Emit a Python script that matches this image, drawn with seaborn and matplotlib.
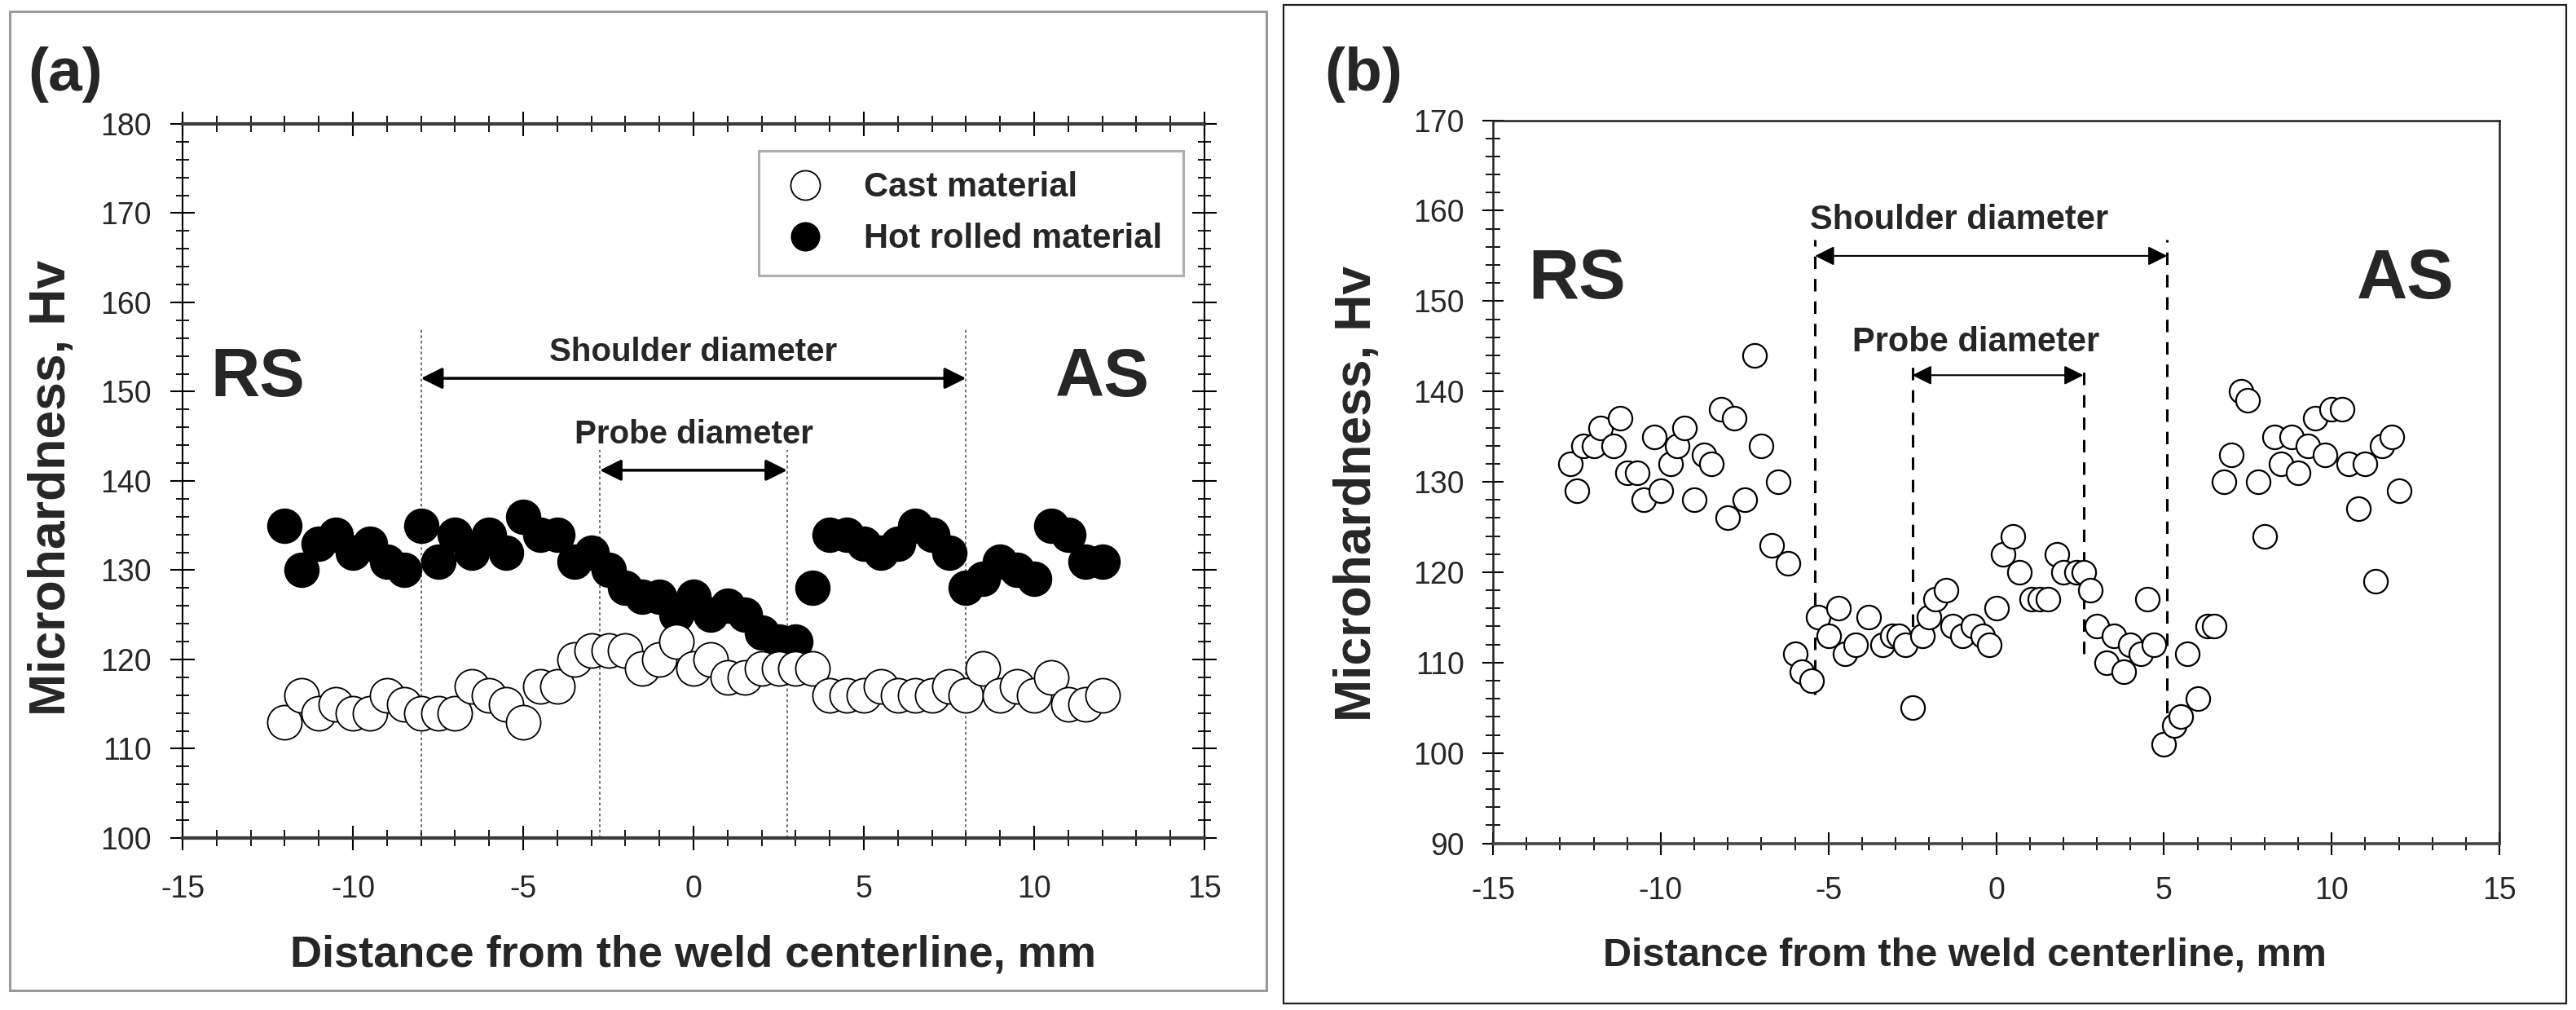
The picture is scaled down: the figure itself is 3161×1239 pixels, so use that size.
import matplotlib
matplotlib.use("Agg")
import matplotlib.pyplot as plt
import seaborn as sns
import pandas as pd
from matplotlib.lines import Line2D
from matplotlib.patches import Rectangle
from matplotlib.ticker import MultipleLocator

# ---------------- data: panel (a) ----------------
pos_a = [-12, -11.5, -11, -10.5, -10, -9.5, -9, -8.5, -8, -7.5, -7, -6.5, -6, -5.5,
         -5, -4.5, -4, -3.5, -3, -2.5, -2, -1.5, -1, -0.5, 0, 0.5, 1, 1.5, 2, 2.5,
         3, 3.5, 4, 4.5, 5, 5.5, 6, 6.5, 7, 7.5, 8, 8.5, 9, 9.5, 10, 10.5, 11, 11.5, 12]
hot_rolled = [135, 130, 133, 134, 132, 133, 131, 130, 135, 131, 134, 132, 134, 132,
              136, 134, 134, 131, 132, 130, 128, 127, 127, 125, 127, 125, 126, 125, 123, 122,
              122, 128, 134, 134, 133, 132, 133, 135, 134, 132, 128, 129, 131, 130, 129, 135, 134, 131, 131]
cast = [113, 116, 114, 115, 114, 114, 116, 115, 114, 114, 114, 117, 116, 115,
        113, 117, 117, 120, 121, 121, 121, 119, 120, 122, 119, 120, 118, 118, 119, 119,
        119, 119, 116, 116, 116, 117, 116, 116, 116, 117, 116, 119, 116, 117, 116, 118, 115, 115, 116]
legend_labels = ["Cast material", "Hot rolled material"]
shoulder_a = [-8, 8]
probe_a = [-2.75, 2.75]

# ---------------- data: panel (b) ----------------
pos_b = [-12.7, -12.5, -12.3, -12.0, -11.8, -11.4, -11.2, -11.0, -10.7, -10.5, -10.2, -10.0,
         -9.7, -9.5, -9.3, -9.0, -8.7, -8.5, -8.2, -8.0, -7.8, -7.5, -7.2, -7.0, -6.7, -6.5,
         -6.2, -6.0, -5.8, -5.5, -5.3, -5.0, -4.7, -4.5, -4.2, -3.8, -3.4, -3.1, -2.9, -2.7,
         -2.5, -2.2, -2.0, -1.8, -1.5, -1.3, -1.0, -0.7, -0.4, -0.2, 0.0, 0.2, 0.5, 0.7,
         1.05, 1.3, 1.55, 1.8, 2.0, 2.4, 2.6, 2.8, 3.0, 3.3, 3.5, 3.8, 4.0, 4.3, 4.5, 4.7,
         5.0, 5.3, 5.5, 5.7, 6.0, 6.3, 6.5, 6.8, 7.0, 7.3, 7.5, 7.8, 8.0, 8.3, 8.5, 8.8,
         9.0, 9.3, 9.5, 9.8, 10.0, 10.3, 10.5, 10.8, 11.0, 11.3, 11.5, 11.8, 12.0]
hard_b = [132, 129, 134, 134, 136, 134, 137, 131, 131, 128, 135, 129,
          132, 134, 136, 128, 133, 132, 138, 126, 137, 128, 144, 134, 123, 130,
          121, 111, 109, 108, 115, 113, 116, 111, 112, 115, 112, 113, 113, 112,
          105, 113, 115, 117, 118, 114, 113, 114, 113, 112, 116, 122, 124, 120,
          117, 117, 117, 122, 120, 120, 120, 118, 114, 110, 113, 109, 112, 111, 117, 112,
          101, 103, 104, 111, 106, 114, 114, 130, 133, 140, 139, 130, 124, 135, 132, 135,
          131, 134, 137, 133, 138, 138, 132, 127, 132, 119, 134, 135, 129]
shoulder_b = [-5.4, 5.1]
probe_b = [-2.5, 2.6]

x_ticks = [-15, -10, -5, 0, 5, 10, 15]
xlabel = "Distance from the weld centerline, mm"
ylabel = "Microhardness, Hv"

# ---------------- style ----------------
sns.set_theme(style="white")
plt.rcParams["font.family"] = ["Liberation Sans", "DejaVu Sans"]
plt.rcParams["axes.unicode_minus"] = False

W, H = 3161, 1239
fig = plt.figure(figsize=(W / 100, H / 100), dpi=100)
fig.patch.set_facecolor("white")

# outer panel frames
fig.patches.append(Rectangle((12 / W, 1 - 1215 / H), (1554 - 12) / W, (1215 - 14) / H,
                             transform=fig.transFigure, fill=False, ec="#9a9a9a", lw=2.2))
fig.patches.append(Rectangle((1575 / W, 1 - 1231 / H), (3149 - 1575) / W, (1231 - 6) / H,
                             transform=fig.transFigure, fill=False, ec="#202020", lw=1.6))

axA = fig.add_axes([224 / W, 1 - 1028 / H, (1478 - 224) / W, (1028 - 152) / H])
axB = fig.add_axes([1832 / W, 1 - 1034.6 / H, (3067 - 1832) / W, (1034.6 - 147.6) / H])

df_a = pd.DataFrame({"pos": pos_a, "hot": hot_rolled, "cast": cast})
df_b = pd.DataFrame({"pos": pos_b, "hv": hard_b})

# ---------------- panel (a) ----------------
axA.vlines(shoulder_a, 100, 157, colors="#555555", linestyles=(0, (2, 2)), lw=1.2, zorder=1)
axA.vlines(probe_a, 100, 143.5, colors="#555555", linestyles=(0, (2, 2)), lw=1.2, zorder=1)
sns.scatterplot(data=df_a, x="pos", y="hot", ax=axA, s=980, color="black",
                edgecolor="black", linewidth=0, zorder=2, legend=False)
sns.scatterplot(data=df_a, x="pos", y="cast", ax=axA, s=920, color="white",
                edgecolor="black", linewidth=1.3, zorder=3, legend=False)

axA.annotate("", xy=(shoulder_a[1], 151.5), xytext=(shoulder_a[0], 151.5),
             arrowprops=dict(arrowstyle="<|-|>", color="black", lw=2.5, mutation_scale=40,
                             shrinkA=0, shrinkB=0), zorder=4)
axA.annotate("", xy=(probe_a[1], 141.2), xytext=(probe_a[0], 141.2),
             arrowprops=dict(arrowstyle="<|-|>", color="black", lw=2.5, mutation_scale=40,
                             shrinkA=0, shrinkB=0), zorder=4)
axA.text(0, 154.4, "Shoulder diameter", ha="center", va="center", fontsize=29, fontweight="bold")
axA.text(0, 145.2, "Probe diameter", ha="center", va="center", fontsize=29, fontweight="bold")
axA.text(-12.8, 151.5, "RS", ha="center", va="center", fontsize=60, fontweight="bold")
axA.text(12.0, 151.5, "AS", ha="center", va="center", fontsize=60, fontweight="bold")

axA.set_xlim(-15, 15)
axA.set_ylim(100, 180)
axA.xaxis.set_major_locator(MultipleLocator(5))
axA.xaxis.set_minor_locator(MultipleLocator(1))
axA.yaxis.set_major_locator(MultipleLocator(10))
axA.yaxis.set_minor_locator(MultipleLocator(2))
axA.tick_params(axis="x", which="major", direction="inout", length=21, width=1.5,
                top=True, bottom=True, labelsize=27, pad=22, color="black")
axA.tick_params(axis="x", which="minor", direction="inout", length=14, width=1.3,
                top=True, bottom=True, color="black")
axA.tick_params(axis="y", which="major", direction="inout", length=21, width=1.5,
                left=True, right=True, labelsize=27, pad=17, color="black")
axA.tick_params(axis="y", which="minor", direction="inout", length=12, width=1.3,
                left=True, right=True, color="black")
for side in ["top", "bottom"]:
    axA.spines[side].set_linewidth(3.0)
    axA.spines[side].set_color("#3a3a3a")
for side in ["left", "right"]:
    axA.spines[side].set_linewidth(1.5)
    axA.spines[side].set_color("black")

axA.set_xticks(x_ticks)
axA.set_xlabel(xlabel, fontsize=39, fontweight="bold")
axA.set_ylabel(ylabel, fontsize=45, fontweight="bold")
axA.xaxis.set_label_coords(0.5, -0.164)
axA.xaxis.label.set_verticalalignment("center")
axA.yaxis.set_label_coords(-0.128, 0.49)
axA.yaxis.label.set_verticalalignment("center")

handles = [Line2D([], [], ls="", marker="o", ms=26, mfc="white", mec="black", mew=1.3),
           Line2D([], [], ls="", marker="o", ms=26, mfc="black", mec="black", mew=0)]
leg = axA.legend(handles, legend_labels, loc="upper left", bbox_to_anchor=(0.564, 0.962),
                 borderaxespad=0, frameon=True, fancybox=False, handletextpad=1.0,
                 borderpad=0.6, labelspacing=0.55, handlelength=1.5,
                 prop={"size": 30, "weight": "bold"})
leg.get_frame().set_edgecolor("#9a9a9a")
leg.get_frame().set_linewidth(2.2)

# ---------------- panel (b) ----------------
axB.vlines(shoulder_b, [106.5, 102], 156.8, colors="black", linestyles=(0, (5, 4)), lw=2.2, zorder=1)
axB.vlines(probe_b, [111.5, 111], 142.7, colors="black", linestyles=(0, (5, 4)), lw=2.2, zorder=1)
sns.scatterplot(data=df_b, x="pos", y="hv", ax=axB, s=440, color="white",
                edgecolor="black", linewidth=1.6, zorder=3, legend=False)
axB.annotate("", xy=(shoulder_b[1], 155.0), xytext=(shoulder_b[0], 155.0),
             arrowprops=dict(arrowstyle="<|-|>", color="black", lw=1.5, mutation_scale=36,
                             shrinkA=0, shrinkB=0), zorder=4)
axB.annotate("", xy=(probe_b[1], 141.8), xytext=(probe_b[0], 141.8),
             arrowprops=dict(arrowstyle="<|-|>", color="black", lw=1.5, mutation_scale=36,
                             shrinkA=0, shrinkB=0), zorder=4)
axB.text(-1.1, 159.0, "Shoulder diameter", ha="center", va="center", fontsize=30, fontweight="bold")
axB.text(-0.6, 145.4, "Probe diameter", ha="center", va="center", fontsize=30, fontweight="bold")
axB.text(-12.5, 152.3, "RS", ha="center", va="center", fontsize=62, fontweight="bold")
axB.text(12.2, 152.3, "AS", ha="center", va="center", fontsize=62, fontweight="bold")

axB.set_xlim(-15, 15)
axB.set_ylim(90, 170)
axB.xaxis.set_major_locator(MultipleLocator(5))
axB.xaxis.set_minor_locator(MultipleLocator(1))
axB.yaxis.set_major_locator(MultipleLocator(10))
axB.yaxis.set_minor_locator(MultipleLocator(2))
axB.tick_params(axis="x", which="major", direction="inout", length=20, width=1.5,
                bottom=True, top=False, labelsize=27, pad=19, color="black")
axB.tick_params(axis="x", which="minor", direction="inout", length=11, width=1.3,
                bottom=True, top=False, color="black")
axB.tick_params(axis="y", which="major", direction="inout", length=19, width=1.5,
                left=True, right=False, labelsize=27, pad=16, color="black")
axB.tick_params(axis="y", which="minor", direction="inout", length=13, width=1.3,
                left=True, right=False, color="black")
for side in ["top", "bottom", "left", "right"]:
    axB.spines[side].set_linewidth(1.8)
    axB.spines[side].set_color("#222222")
axB.spines["bottom"].set_linewidth(2.6)
axB.spines["bottom"].set_color("#444444")

axB.set_xticks(x_ticks)
axB.set_xlabel(xlabel, fontsize=35, fontweight="bold")
axB.set_ylabel(ylabel, fontsize=45, fontweight="bold")
axB.xaxis.set_label_coords(0.469, -0.155)
axB.xaxis.label.set_verticalalignment("center")
axB.yaxis.set_label_coords(-0.135, 0.484)
axB.yaxis.label.set_verticalalignment("center")

# panel labels
fig.text(80 / W, 1 - 91 / H, "(a)", ha="center", va="center", fontsize=54, fontweight="bold")
fig.text(1673 / W, 1 - 91 / H, "(b)", ha="center", va="center", fontsize=54, fontweight="bold")

fig.savefig("out.png", dpi=100, facecolor="white")
